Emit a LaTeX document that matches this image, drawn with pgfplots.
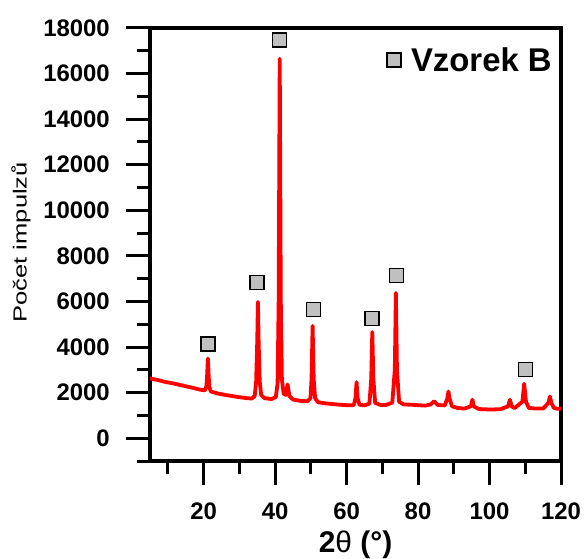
\documentclass[border=0pt]{standalone}
\usepackage{graphicx}
\usepackage{fontspec}
\setmainfont{Liberation Sans}
\usepackage{pgfplots}
\pgfplotsset{compat=1.18}
\definecolor{mkgray}{RGB}{192,192,192}
\begin{document}
\begin{tikzpicture}
\path[use as bounding box] (-150bp,-98bp) rectangle (437bp,461bp);
\begin{axis}[
  scale only axis, width=411bp, height=433bp,
  xmin=5, xmax=120, ymin=-1000, ymax=18000,
  xtick={20,40,...,120}, minor xtick={10,30,...,110},
  ytick={0,2000,...,18000}, minor ytick={-1000,1000,...,17000},
  scaled y ticks=false, scaled x ticks=false,
  tick align=outside, xtick pos=bottom, ytick pos=left,
  major tick length=24bp, minor tick length=13bp,
  axis line style={line width=3.5bp},
  every tick/.style={black, line width=3bp},
  /pgf/number format/assume math mode=true,
  /pgf/number format/1000 sep={},
  tick label style={font=\fontsize{24}{24}\selectfont\bfseries},
  xticklabel style={anchor=north, inner sep=0pt, yshift=-18bp},
  yticklabel style={anchor=east, inner sep=0pt, xshift=-16bp},
  xlabel={\textbf{2}θ\textbf{ (°)}},
  xlabel style={font=\fontsize{30}{30}\selectfont, at={(rel axis cs:0.5,0)}, anchor=base, yshift=-91bp},
  ylabel={\scalebox{1.35}[1]{Počet impulzů}},
  ylabel style={font=\fontsize{19}{19}\selectfont, at={([xshift=-129bp]rel axis cs:0,0.505)}, anchor=center},
  legend style={draw=none, fill=none, at={(rel axis cs:0.99,0.965)}, anchor=north east,
    font=\fontsize{33}{33}\selectfont\bfseries},
  clip=true,
]
\addplot[color=red, line width=3.8bp, line join=round, forget plot] coordinates {
(5,2620) (7,2560) (9,2480) (11,2420) (13,2350) (15,2280) (17,2210) (19,2130)
(20.4,2100) (20.8,2300) (21.0,2800) (21.2,3500) (21.4,2800) (21.6,2250) (22,2050)
(24,1960) (26,1900) (28,1850) (30,1800) (32,1760) (33.5,1740)
(34.3,1850) (34.7,2500) (35.0,4200) (35.2,5980) (35.4,4200) (35.7,2500) (36.1,1900)
(37,1760) (39,1720) (40.2,1800) (40.7,2400) (41.0,6000) (41.3,16650) (41.6,6000)
(41.9,2600) (42.4,1950) (43.0,1900) (43.5,2360) (44.0,1850) (45,1700) (47,1640)
(49,1620) (49.9,1750) (50.2,2600) (50.5,4930) (50.8,2600) (51.2,1750) (52,1580)
(54,1530) (56,1500) (58,1470) (60,1450) (62,1450) (62.5,1750) (62.8,2460)
(63.1,1750) (63.6,1470) (65,1440) (66.4,1520) (66.9,2600) (67.2,4660) (67.5,2600)
(68.0,1550) (69.5,1460) (71,1460) (72.8,1560) (73.5,3000) (73.8,6380) (74.1,3000)
(74.7,1600) (76,1480) (78,1470) (80,1450) (82,1430) (83.5,1480) (84.5,1620)
(85.5,1460) (87.5,1440) (88.2,1750) (88.5,2050) (88.8,1750) (89.5,1400) (91,1330)
(93,1300) (94.8,1400) (95.2,1690) (95.6,1400) (97,1280) (100,1260) (103,1270)
(105.2,1400) (105.7,1690) (106.2,1400) (107,1320) (109.2,1600) (109.7,2390)
(110.2,1600) (111,1330) (113,1300) (115,1300) (116.5,1550) (116.9,1830)
(117.3,1550) (118,1330) (119,1290) (120,1300)
};
\addplot[only marks, mark=square*, mark size=7bp, mark options={fill=mkgray, draw=black, line width=1.5bp}] coordinates {
(21.2,4130) (35.0,6830) (41.3,17480) (50.7,5650) (67.1,5260) (74.0,7150) (110.0,3020)
};
\addlegendentry{\hspace{8bp}Vzorek B}
\end{axis}
\end{tikzpicture}
\end{document}
